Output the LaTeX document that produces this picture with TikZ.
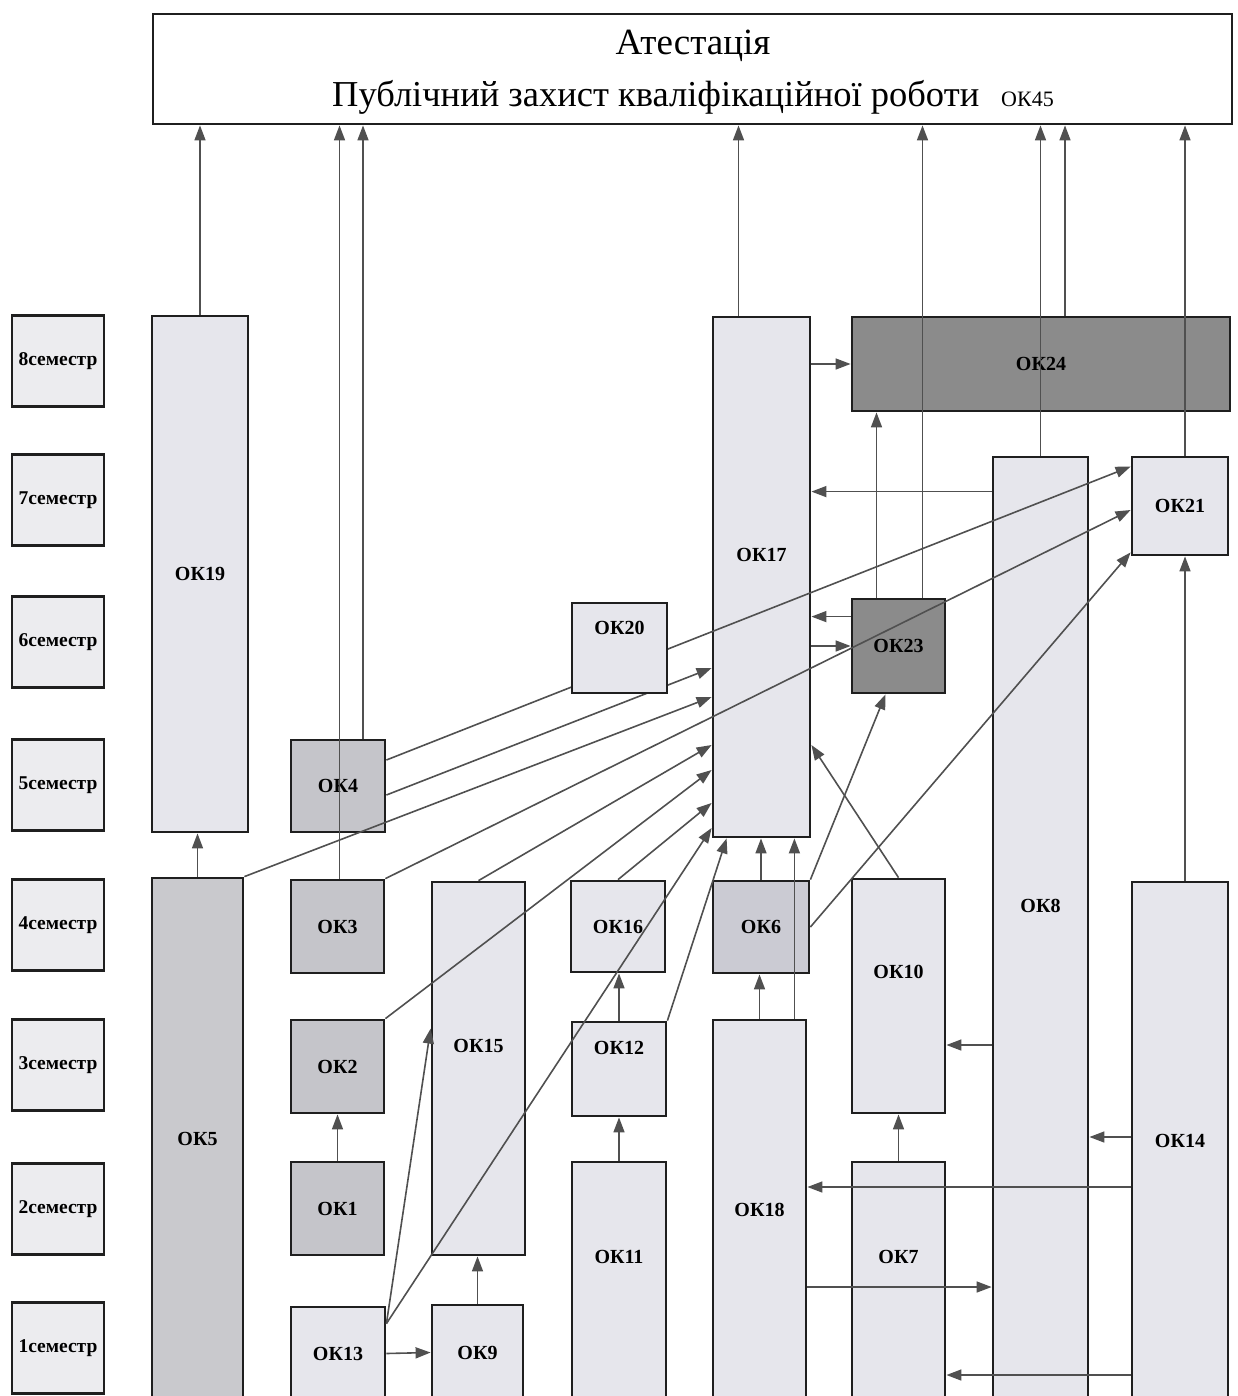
\documentclass[tikz,border=0pt]{standalone}
\usepackage{fontspec}
\setmainfont{Liberation Serif}
\usetikzlibrary{arrows.meta, calc}
\definecolor{boxlight}{HTML}{E6E6EC}
\definecolor{semfill}{HTML}{ECECEF}
\definecolor{boxmid}{HTML}{C5C5CA}
\definecolor{boxokv}{HTML}{C9C9CD}
\definecolor{boxoks}{HTML}{CBCBD3}
\definecolor{boxdark}{HTML}{8B8B8B}
\definecolor{linegray}{HTML}{505050}

\begin{document}
\begin{tikzpicture}[x=1pt, y=-1pt,
  box/.style={draw=black!88, line width=2.8pt, inner sep=0pt, font=\bfseries\fontsize{20}{22}\selectfont},
  sem/.style={box, fill=semfill, minimum width=92, minimum height=91, font=\bfseries\fontsize{19.5}{21}\selectfont},
  lbl/.style={font=\bfseries\fontsize{20}{22}\selectfont, inner sep=0pt},
  arr/.style={draw=linegray, fill=linegray, line width=1.6pt, -{Triangle[length=15pt, width=11pt]}}]
  \useasboundingbox (0,0) rectangle (1238,1396);
  \clip (0,0) rectangle (1238,1396);

  % attestation
  \node[box, fill=white, minimum width=1079, minimum height=110] (att) at (692.5,69) {};
  \node[font=\fontsize{37}{40}\selectfont] at (693,46) {Атестація};
  \node[font=\fontsize{36.5}{40}\selectfont] at (693,97) {Публічний захист кваліфікаційної роботи\hspace{22pt}{\fontsize{22}{24}\selectfont ОК45}};

  % semesters
  \foreach \s/\yy in {8/361, 7/500, 6/642, 5/785, 4/925, 3/1065, 2/1209, 1/1348}
    \node[sem] (sem\s) at (58,\yy) {{\s}семестр};

  % components
  \node[box, fill=boxlight, minimum width=96, minimum height=516] (ok19) at (200,574) {ОК19};
  \node[box, fill=boxokv, minimum width=91, minimum height=522] (ok5) at (197.5,1139) {ОК5};
  \node[box, fill=boxmid, minimum width=94, minimum height=92] (ok4) at (338,786) {ОК4};
  \node[box, fill=boxmid, minimum width=93, minimum height=93] (ok3) at (337.5,926.5) {ОК3};
  \node[box, fill=boxmid, minimum width=93, minimum height=93] (ok2) at (337.5,1066.5) {ОК2};
  \node[box, fill=boxmid, minimum width=93, minimum height=93] (ok1) at (337.5,1208.5) {ОК1};
  \node[box, fill=boxlight, minimum width=94, minimum height=93] (ok13) at (338,1353.5) {ОК13};
  \node[box, fill=boxlight, minimum width=93, minimum height=373, label={[lbl,yshift=23]center:ОК15}] (ok15) at (478.5,1068.5) {};
  \node[box, fill=boxlight, minimum width=91, minimum height=95] (ok9) at (477.5,1352.5) {ОК9};
  \node[box, fill=boxlight, minimum width=94, minimum height=91] (ok16) at (618,926.5) {ОК16};
  \node[box, fill=boxlight, minimum width=94, minimum height=94, label={[lbl,yshift=21]center:ОК12}] (ok12) at (619,1069) {};
  \node[box, fill=boxlight, minimum width=94, minimum height=238, label={[lbl,yshift=24]center:ОК11}] (ok11) at (619,1281) {};
  \node[box, fill=boxlight, minimum width=97, minimum height=520, label={[lbl,yshift=22]center:ОК17}] (ok17) at (761.5,577) {};
  \node[box, fill=boxoks, minimum width=96, minimum height=92] (ok6) at (761,927) {ОК6};
  \node[box, fill=boxlight, minimum width=93, minimum height=380] (ok18) at (759.5,1210) {ОК18};
  \node[box, fill=boxdark, minimum width=378, minimum height=94] (ok24) at (1041,364) {ОК24};
  \node[box, fill=boxdark, minimum width=93, minimum height=94] (ok23) at (898.5,646) {ОК23};
  \node[box, fill=boxlight, minimum width=93, minimum height=234, label={[lbl,yshift=24]center:ОК10}] (ok10) at (898.5,996) {};
  \node[box, fill=boxlight, minimum width=93, minimum height=238, label={[lbl,yshift=24]center:ОК7}] (ok7) at (898.5,1281) {};
  \node[box, fill=boxlight, minimum width=95, minimum height=943, label={[lbl,yshift=23]center:ОК8}] (ok8) at (1040.5,928.5) {};
  \node[box, fill=boxlight, minimum width=96, minimum height=98] (ok21) at (1180,506) {ОК21};
  \node[box, fill=boxlight, minimum width=96, minimum height=518] (ok14) at (1180,1141) {ОК14};

  % into the attestation
  \draw[arr] (ok19.north) -- (ok19.north |- att.south);
  \draw[arr] ([xshift=2pt]ok3.north) -- ([xshift=2pt]ok3.north |- att.south);
  \draw[arr] ([xshift=25pt]ok4.north) -- ([xshift=25pt]ok4.north |- att.south);
  \draw[arr] ([xshift=-23pt]ok17.north) -- ([xshift=-23pt]ok17.north |- att.south);
  \draw[arr] ([xshift=24pt]ok23.north) -- ([xshift=24pt]ok23.north |- att.south);
  \draw[arr] (ok8.north) -- (ok8.north |- att.south);
  \draw[arr] ([xshift=24pt]ok24.north) -- ([xshift=24pt]ok24.north |- att.south);
  \draw[arr] ([xshift=5pt]ok21.north) -- ([xshift=5pt]ok21.north |- att.south);

  % vertical
  \draw[arr] (ok5.north) -- (ok5.north |- ok19.south);
  \draw[arr] (ok1.north) -- (ok2.south);
  \draw[arr] (ok9.north) -- (ok9.north |- ok15.south);
  \draw[arr] (ok11.north) -- (ok12.south);
  \draw[arr] (ok12.north) -- (ok12.north |- ok16.south);
  \draw[arr] (ok18.north) -- (ok18.north |- ok6.south);
  \draw[arr] (ok6.north) -- (ok6.north |- ok17.south);
  \draw[arr] ([xshift=-13pt]ok18.north east) -- ([xshift=-13pt]ok18.north east |- ok17.south);
  \draw[arr] (ok7.north) -- (ok10.south);
  \draw[arr] ([xshift=5pt]ok14.north) -- ([xshift=5pt]ok21.south);
  \draw[arr] ([xshift=-22pt]ok23.north) -- ([xshift=-22pt]ok23.north |- ok24.south);

  % horizontal
  \coordinate (h8) at ($(ok8.north west)+(0,36)$);
  \coordinate (h23) at ($(ok23.north west)+(0,19)$);
  \coordinate (h10) at ($(ok10.east)+(0,49)$);
  \coordinate (h18) at ($(ok14.west)+(0,46)$);
  \coordinate (h88) at ($(ok18.east)+(0,77)$);
  \coordinate (h7) at ($(ok14.west)+(0,234)$);
  \draw[arr] (ok17.east |- ok24.west) -- (ok24.west);
  \draw[arr] (h8) -- (h8 -| ok17.east);
  \draw[arr] (h23) -- (h23 -| ok17.east);
  \draw[arr] (ok17.east |- ok23.west) -- (ok23.west);
  \draw[arr] (h10 -| ok8.west) -- (h10);
  \draw[arr] ([yshift=4pt]ok14.west) -- ([yshift=4pt]ok14.west -| ok8.east);
  \draw[arr] (h18) -- (h18 -| ok18.east);
  \draw[arr] (h88) -- (h88 -| ok8.west);
  \draw[arr] (h7) -- (h7 -| ok7.east);
  \draw[arr] (ok13.east) -- (ok9.west);

  % diagonal
  \draw[arr] ($(ok4.east)+(0,-26)$) -- ($(ok21.north west)+(0,11)$);
  \draw[arr] ($(ok4.east)+(0,9)$) -- ($(ok17.west)+(0,91)$);
  \draw[arr] (ok5.north east) -- ($(ok17.west)+(0,120)$);
  \draw[arr] (ok3.north east) -- ($(ok21.west)+(0,4)$);
  \draw[arr] (ok15.north) -- ($(ok17.west)+(0,168)$);
  \draw[arr] (ok2.north east) -- ($(ok17.west)+(0,193)$);
  \draw[arr] (ok16.north) -- ($(ok17.west)+(0,226)$);
  \draw[arr] ($(ok13.north east)+(0,18)$) -- ($(ok17.west)+(0,251)$);
  \draw[arr] ($(ok13.north east)+(0,18)$) -- ($(ok15.north west)+(0,148)$);
  \draw[arr] (ok12.north east) -- ($(ok17.south west)+(15,0)$);
  \draw[arr] (ok6.north east) -- ($(ok23.south)+(-13,0)$);
  \draw[arr] (ok6.east) -- ($(ok21.south west)+(0,-4)$);
  \draw[arr] (ok10.north) -- ($(ok17.east)+(0,168)$);

  \node[box, fill=boxlight, minimum width=95, minimum height=90, label={[lbl,yshift=20]center:ОК20}] (ok20) at (619.5,648) {};
\end{tikzpicture}
\end{document}
